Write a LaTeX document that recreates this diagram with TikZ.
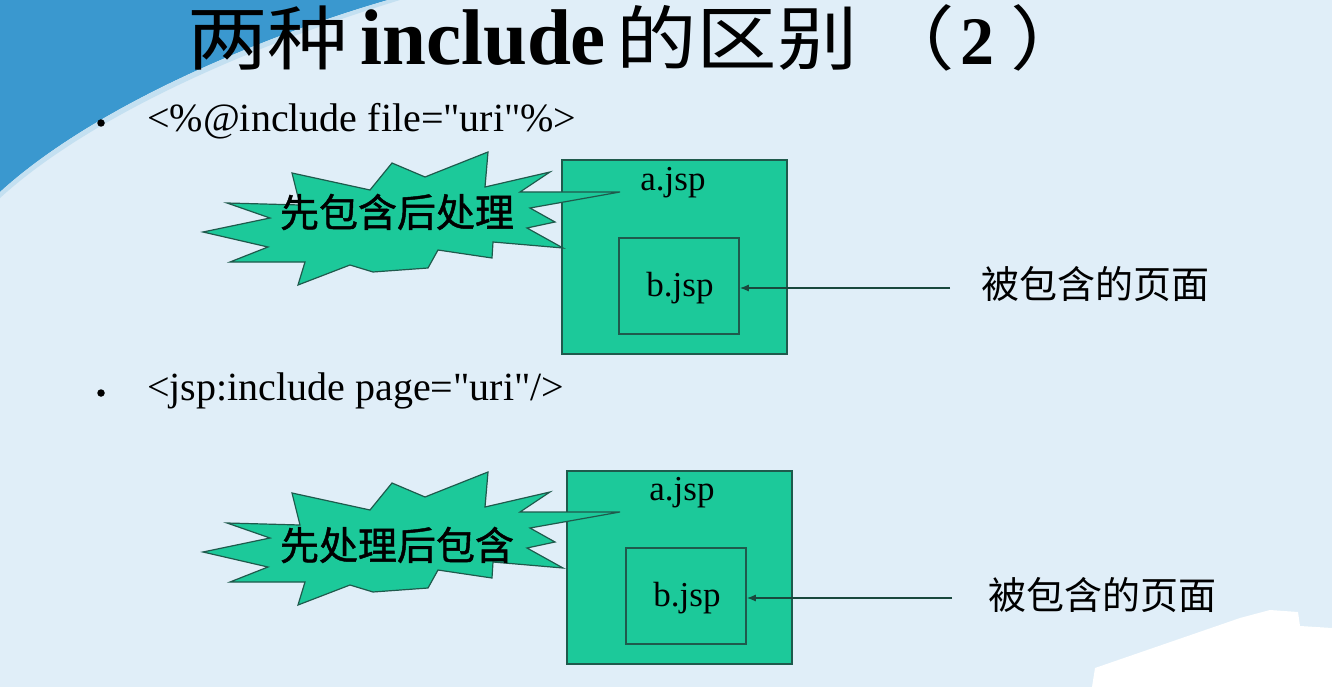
\documentclass[tikz,border=0pt]{standalone}
\usepackage{fontspec}
\setmainfont{Liberation Serif}
\newfontfamily\codefont{Liberation Serif}
\newfontfamily\cjk{Noto Sans CJK SC}
\newfontfamily\cjkstar{Noto Sans CJK SC}[FakeBold=1.2]
\newfontfamily\cjkwide{Noto Sans CJK SC}[FakeStretch=1.15]
\usetikzlibrary{arrows.meta}
\definecolor{bgblue}{HTML}{E0EEF8}
\definecolor{swoosh}{HTML}{3A98CF}
\definecolor{teal}{HTML}{1CC99A}
\definecolor{tealdark}{HTML}{1F5A4C}
\tikzset{
  starshape/.style={fill=teal, draw=tealdark, line width=1.2pt, line join=miter},
  outerbox/.style={fill=teal, draw=tealdark, line width=1.6pt},
  innerbox/.style={draw=tealdark, line width=1.6pt},
  codetext/.style={font=\codefont\fontsize{40}{41}\selectfont, anchor=west, inner sep=0pt},
  jsplabel/.style={font=\fontsize{35}{37}\selectfont, inner sep=0pt},
  startext/.style={font=\cjkstar\fontsize{39}{42}\selectfont, inner sep=0pt},
  sidelabel/.style={font=\cjk\fontsize{38}{40}\selectfont, anchor=west, inner sep=0pt},
  pointer/.style={draw=tealdark!80!black, line width=1.2pt, -{Latex[length=9pt,width=7pt]}},
  bulletdot/.style={circle, fill=black, inner sep=0pt, minimum size=7.5pt},
}
\begin{document}
\begin{tikzpicture}[x=1pt,y=-1pt]
\useasboundingbox (0,0) rectangle (1332,687);
\fill[bgblue] (0,0) rectangle (1332,687);
% swoosh
\fill[swoosh] (0,0) -- (388,0) .. controls (250,40) and (90,110) .. (0,192) -- cycle;
\fill[white!70!swoosh] (388,0) .. controls (250,40) and (90,110) .. (0,192) -- (0,198) .. controls (90,116) and (250,46) .. (400,0) -- cycle;
% white patch bottom right
\fill[white] (1092,687) -- (1095,668) -- (1240,618) -- (1270,610) -- (1298,612) -- (1300,626) -- (1332,628) -- (1332,687) -- cycle;

% title
\node[inner sep=0pt, anchor=west] (title) at (187,38) {\cjkwide\fontsize{70}{72}\selectfont 两种\hspace{12pt}{\fontspec{Liberation Serif Bold}\fontsize{79}{80}\selectfont include}\hspace{10pt}的区别\hspace{17pt}（\hspace{5pt}{\fontspec{Liberation Serif Bold}\fontsize{68}{70}\selectfont 2}\hspace{16pt}）};

% bullets
\node[bulletdot] (b1) at (101,123) {};
\node[codetext] (code1) at (147,121) {<\%@include file="uri"\%>};
\node[bulletdot] (b2) at (101,393) {};
\node[codetext] (code2) at (147,391) {<jsp:include page="uri"/>};

% ---------- first diagram ----------
\draw[outerbox] (562,160) rectangle (787,354);
\node[jsplabel] (a1) at (673,183) {a.jsp};
\node[innerbox, minimum width=120pt, minimum height=96pt, inner sep=0pt] (b1box) at (679,286) {};
\node[jsplabel] (b1txt) at (680,288) {b.jsp};
\filldraw[starshape] (227,203) -- (300,205) -- (292,173) -- (370,190) -- (392,163) -- (425,177)
  -- (488,152) -- (485,187) -- (550,172) -- (520,192) -- (620,192) -- (530,208) -- (555,222)
  -- (527,228) -- (563,248) -- (493,242) -- (492,258) -- (438,250) -- (428,268) -- (373,272)
  -- (350,265) -- (298,285) -- (305,262) -- (230,262) -- (268,247) -- (203,232) -- (270,218) -- cycle;
\node[startext] (s1) at (397,212) {先包含后处理};
\node[sidelabel] (lab1) at (981,284) {被包含的页面};
\coordinate (p1) at (950,288);
\draw[pointer] (p1) -- (b1box.east |- p1);

% ---------- second diagram ----------
\draw[outerbox] (567,471) rectangle (792,664);
\node[jsplabel] (a2) at (682,493) {a.jsp};
\node[innerbox, minimum width=120pt, minimum height=96pt, inner sep=0pt] (b2box) at (686,596) {};
\node[jsplabel] (b2txt) at (687,598) {b.jsp};
\begin{scope}[yshift=-320pt]
\filldraw[starshape] (227,203) -- (300,205) -- (292,173) -- (370,190) -- (392,163) -- (425,177)
  -- (488,152) -- (485,187) -- (550,172) -- (520,192) -- (620,192) -- (530,208) -- (555,222)
  -- (527,228) -- (563,248) -- (493,242) -- (492,258) -- (438,250) -- (428,268) -- (373,272)
  -- (350,265) -- (298,285) -- (305,262) -- (230,262) -- (268,247) -- (203,232) -- (270,218) -- cycle;
\end{scope}
\node[startext] (s2) at (397,545) {先处理后包含};
\node[sidelabel] (lab2) at (988,595) {被包含的页面};
\coordinate (p2) at (952,598);
\draw[pointer] (p2) -- (b2box.east |- p2);
\end{tikzpicture}
\end{document}
